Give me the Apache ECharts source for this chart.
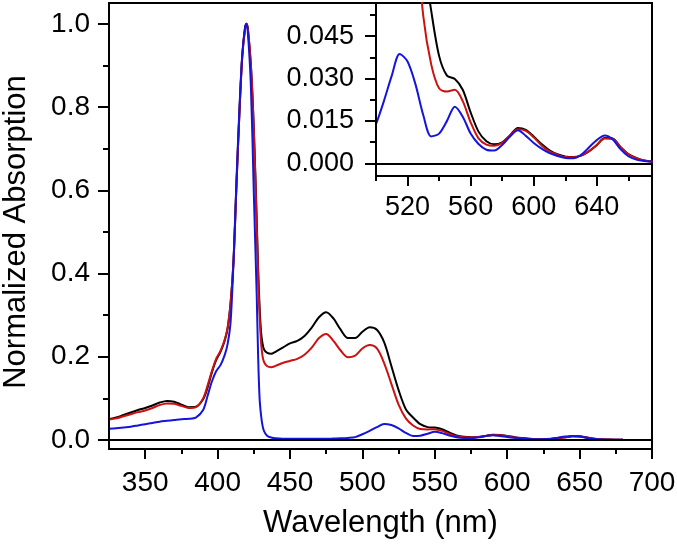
<!DOCTYPE html>
<html><head><meta charset="utf-8">
<script src="https://cdn.jsdelivr.net/npm/echarts@6/dist/echarts.min.js"></script>
<style>html,body{margin:0;padding:0;background:#fff}#c{width:677px;height:546px}</style>
</head><body><div id="c"></div>
<script>
const wavelength = [325,330,335,340,345,350,355,360,365,370,375,380,385,390,393,396,399,402,405,407,409,411,413,415,417,419,420,421,423,425,427,428,429,430,431,432,434,437,440,445,450,455,460,465,470,475,480,485,490,495,500,505,510,515,520,525,530,535,540,545,550,555,560,565,570,575,580,585,590,595,600,605,610,615,620,625,630,635,640,645,650,655,660,665,670,675,680,690,700];
const black = [0.050,0.054,0.060,0.066,0.072,0.077,0.083,0.090,0.094,0.092,0.085,0.079,0.080,0.098,0.125,0.162,0.192,0.212,0.240,0.270,0.330,0.430,0.610,0.780,0.920,0.990,1.000,0.985,0.900,0.750,0.530,0.410,0.320,0.260,0.232,0.218,0.210,0.207,0.212,0.222,0.232,0.238,0.250,0.270,0.295,0.307,0.292,0.265,0.245,0.245,0.260,0.271,0.265,0.235,0.178,0.120,0.074,0.054,0.038,0.031,0.0298,0.026,0.018,0.0112,0.0078,0.0067,0.0074,0.0099,0.0125,0.0118,0.0095,0.0068,0.0046,0.0032,0.0024,0.0022,0.0027,0.0042,0.0065,0.0089,0.0088,0.0058,0.0033,0.0019,0.0010,0.0006,0.0004,0.0002,0.0001];
const red = [0.049,0.052,0.057,0.062,0.067,0.071,0.077,0.084,0.088,0.087,0.082,0.077,0.079,0.100,0.130,0.165,0.195,0.214,0.242,0.272,0.330,0.430,0.610,0.780,0.920,0.990,1.000,0.985,0.900,0.745,0.520,0.395,0.300,0.235,0.202,0.188,0.178,0.175,0.178,0.185,0.190,0.195,0.205,0.222,0.245,0.255,0.238,0.215,0.199,0.203,0.220,0.228,0.220,0.185,0.135,0.085,0.052,0.035,0.0265,0.0254,0.026,0.022,0.0145,0.0088,0.0066,0.0062,0.0072,0.0098,0.0120,0.0115,0.0092,0.0063,0.0042,0.0030,0.0022,0.0021,0.0027,0.0043,0.0064,0.0088,0.0087,0.0058,0.0032,0.0018,0.0010,0.0006,0.0004,0.0002,0.0001];
const blue = [0.027,0.028,0.030,0.032,0.035,0.038,0.041,0.044,0.046,0.048,0.050,0.051,0.054,0.072,0.105,0.140,0.165,0.180,0.205,0.232,0.285,0.430,0.620,0.790,0.925,0.993,1.000,0.975,0.850,0.595,0.350,0.200,0.100,0.060,0.035,0.022,0.011,0.006,0.004,0.003,0.003,0.003,0.003,0.003,0.003,0.003,0.0035,0.004,0.005,0.007,0.0138,0.022,0.031,0.0387,0.036,0.028,0.017,0.0095,0.0105,0.015,0.020,0.0165,0.0105,0.0068,0.0048,0.0045,0.0065,0.0095,0.0117,0.0097,0.0072,0.0052,0.0036,0.0026,0.0019,0.0018,0.0030,0.0056,0.0082,0.0098,0.0085,0.0050,0.0025,0.0013,0.0008,0.0006,0.0004,0.0002,0.0001];

const xTicks = [350,400,450,500,550,600,650,700];
const xMinorTicks = [375,425,475,525,575,625,675];
const yTicks = [0,0.2,0.4,0.6,0.8,1.0];
const yMinorTicks = [0.1,0.3,0.5,0.7,0.9];
const insetXTicks = [520,560,600,640];
const insetXMinorTicks = [500,540,580,620,660];
const insetYTicks = [0,0.015,0.030,0.045];
const insetYMinorTicks = [0.0075,0.0225,0.0375,0.0525];

const FONT = '"Liberation Sans", Arial, Helvetica, sans-serif';
const pts = arr => wavelength.map((w,i)=>[w,arr[i]]);
const colors = {black:'#000000', red:'#cc1111', blue:'#1414dc'};

function majorX(grid, min, max, ticks, margin, fs, z, name){
  return {type:'value', gridIndex:grid, min:min, max:max, position:'bottom', z:z,
    name:name||'', nameLocation:'middle', nameGap:59,
    nameTextStyle:{fontFamily:FONT, fontSize:31, color:'#000'},
    axisLine:{show:true, onZero:false, lineStyle:{color:'#000', width:2}},
    axisTick:{show:true, length:10, customValues:ticks, lineStyle:{color:'#000', width:2}},
    axisLabel:{show:true, customValues:ticks, margin:margin, fontFamily:FONT, fontSize:fs, color:'#000'},
    splitLine:{show:false}};
}
function minorX(grid, min, max, ticks, z){
  return {type:'value', gridIndex:grid, min:min, max:max, position:'bottom', z:z,
    axisLine:{show:false, onZero:false},
    axisTick:{show:true, length:5, customValues:ticks, lineStyle:{color:'#000', width:2}},
    axisLabel:{show:false}, splitLine:{show:false}};
}
function majorY(grid, min, max, ticks, margin, digits, fs, z, name){
  return {type:'value', gridIndex:grid, min:min, max:max, position:'left', z:z,
    name:name||'', nameLocation:'middle', nameGap:77,
    nameTextStyle:{fontFamily:FONT, fontSize:31, color:'#000', padding:[0,12,0,0]},
    axisLine:{show:true, onZero:false, lineStyle:{color:'#000', width:2}},
    axisTick:{show:true, length:11, customValues:ticks, lineStyle:{color:'#000', width:2}},
    axisLabel:{show:true, customValues:ticks, margin:margin, fontFamily:FONT, fontSize:fs, color:'#000',
      formatter: v => Number(v).toFixed(digits)},
    splitLine:{show:false}};
}
function minorY(grid, min, max, ticks, z){
  return {type:'value', gridIndex:grid, min:min, max:max, position:'left', z:z,
    axisLine:{show:false, onZero:false},
    axisTick:{show:true, length:6, customValues:ticks, lineStyle:{color:'#000', width:2}},
    axisLabel:{show:false}, splitLine:{show:false}};
}
function line(name, data, color, xi, yi, z, zero){
  const s = {type:'line', name:name, data:data, xAxisIndex:xi, yAxisIndex:yi, z:z,
    showSymbol:false, smooth:0.3, clip:true,
    lineStyle:{color:color, width:2}, itemStyle:{color:color}};
  if(zero){
    s.markLine = {silent:true, symbol:['none','none'], label:{show:false},
      lineStyle:{color:'#000', width:2, type:'solid'}, data:[{yAxis:0}]};
  }
  return s;
}

const chart = echarts.init(document.getElementById('c'), null, {renderer:'canvas'});
chart.setOption({
  animation:false,
  backgroundColor:'#fff',
  grid:[
    {left:109, right:25, top:3, bottom:97, containLabel:false, outerBoundsMode:'none', show:true, borderColor:'#000', borderWidth:2, backgroundColor:'transparent', z:0},
    {left:376, right:25, top:3, height:173, containLabel:false, outerBoundsMode:'none', show:true, borderColor:'#000', borderWidth:2, backgroundColor:'#fff', z:5}
  ],
  xAxis:[
    majorX(0, 325, 700, xTicks, 20, 28, 3, 'Wavelength (nm)'),
    minorX(0, 325, 700, xMinorTicks, 3),
    majorX(1, 500, 675, insetXTicks, 18, 27, 8),
    minorX(1, 500, 675, insetXMinorTicks, 8)
  ],
  yAxis:[
    majorY(0, -0.0216, 1.05, yTicks, 19, 1, 28, 3, 'Normalized Absorption'),
    minorY(0, -0.0216, 1.05, yMinorTicks, 3),
    majorY(1, -0.0045, 0.0567, insetYTicks, 22, 3, 27, 8),
    minorY(1, -0.0045, 0.0567, insetYMinorTicks, 8)
  ],
  series:[
    line('black', pts(black), colors.black, 0, 0, 2, true),
    line('red', pts(red), colors.red, 0, 0, 2),
    line('blue', pts(blue), colors.blue, 0, 0, 2),
    line('black', pts(black), colors.black, 2, 2, 7, true),
    line('red', pts(red), colors.red, 2, 2, 7),
    line('blue', pts(blue), colors.blue, 2, 2, 7)
  ]
});
</script></body></html>
